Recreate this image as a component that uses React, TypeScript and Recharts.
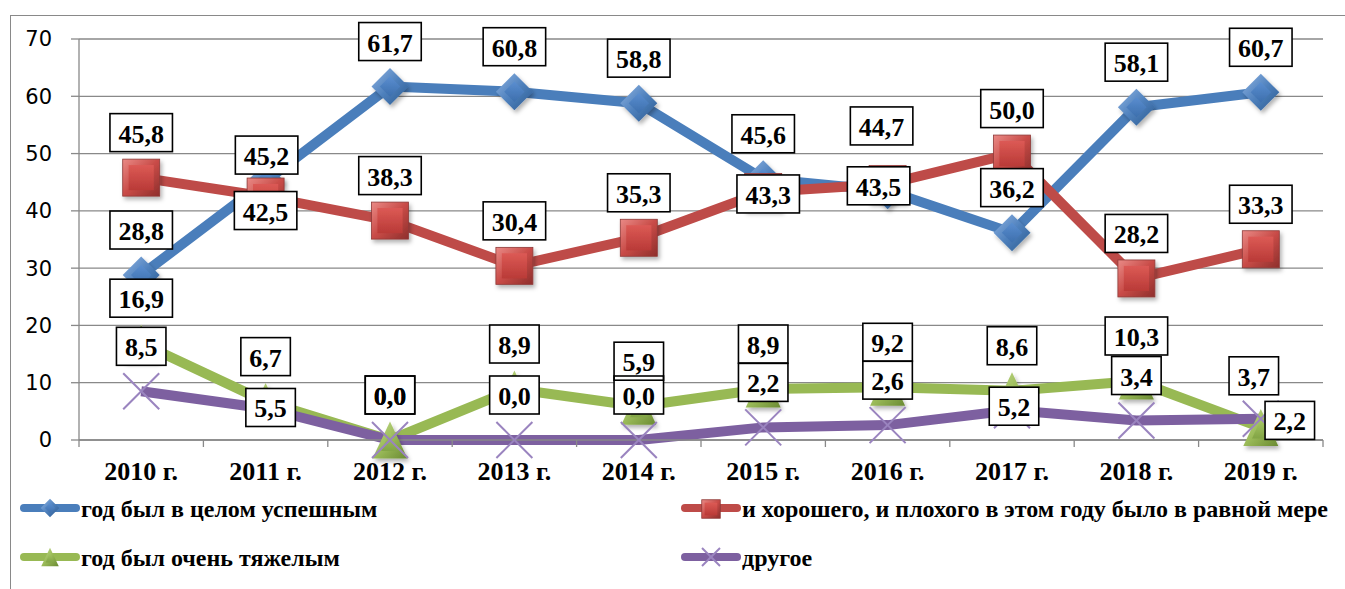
import React from "react";
import { LineChart, Line, XAxis, YAxis, CartesianGrid, Legend, LabelList } from "recharts";

const years = ["2010 г.", "2011 г.", "2012 г.", "2013 г.", "2014 г.", "2015 г.", "2016 г.", "2017 г.", "2018 г.", "2019 г."];
const success = [28.8, 45.2, 61.7, 60.8, 58.8, 45.6, 43.5, 36.2, 58.1, 60.7];
const mixed = [45.8, 42.5, 38.3, 30.4, 35.3, 43.3, 44.7, 50.0, 28.2, 33.3];
const hard = [16.9, 6.7, 0.0, 8.9, 5.9, 8.9, 9.2, 8.6, 10.3, 2.2];
const other = [8.5, 5.5, 0.0, 0.0, 0.0, 2.2, 2.6, 5.2, 3.4, 3.7];
const yTicks = [0, 10, 20, 30, 40, 50, 60, 70];

const nameSuccess = "год был в целом успешным";
const nameMixed = "и хорошего, и плохого в этом году было в равной мере";
const nameHard = "год был очень тяжелым";
const nameOther = "другое";

const data = years.map((year, i) => ({
  year,
  success: success[i],
  mixed: mixed[i],
  hard: hard[i],
  other: other[i],
}));

// layout
const W = 1345;
const H = 589;
const margin = { top: 39, right: 22, bottom: 99, left: 19 };
const Y_AXIS_W = 60;
const X_AXIS_H = 50;
const plotWidth = W - margin.left - Y_AXIS_W - margin.right;
const band = plotWidth / years.length;
const GRID = "#898989";
const SERIF = "'Liberation Serif', 'Times New Roman', serif";

type Kind = "diamond" | "square" | "triangle" | "cross";

const series: { key: string; name: string; color: string; kind: Kind }[] = [
  { key: "success", name: nameSuccess, color: "#4A7EBB", kind: "diamond" },
  { key: "mixed", name: nameMixed, color: "#BE4B48", kind: "square" },
  { key: "hard", name: nameHard, color: "#98B954", kind: "triangle" },
  { key: "other", name: nameOther, color: "#7D60A0", kind: "cross" },
];

// label placement tweaks (dx, dy from the point), default is straight above
const DEFAULT_DY = -45;
const labelShift: Record<string, Record<number, [number, number]>> = {
  success: { 1: [1, -26], 6: [-9, -5] },
  mixed: { 1: [0, 14], 5: [5, 2], 6: [-6, -58] },
  hard: { 9: [29, -7] },
  other: { 1: [5, -1], 7: [2, -4], 9: [-7, -43] },
};

const fmt = (v: number) => v.toFixed(1).replace(".", ",");

function Marker({ kind, cx, cy, s = 1, shadow = true }: { kind: Kind; cx: number; cy: number; s?: number; shadow?: boolean }) {
  const f = shadow ? "url(#mshadow)" : undefined;
  if (kind === "diamond") {
    const r = 18.5 * s;
    const q = r * 0.55;
    return (
      <g filter={f}>
        <polygon points={`${cx},${cy - r} ${cx + r},${cy} ${cx},${cy + r} ${cx - r},${cy}`} fill="url(#gBlue)" />
        <polygon points={`${cx},${cy - q} ${cx + q},${cy} ${cx},${cy + q} ${cx - q},${cy}`} fill="url(#gBlueIn)" />
      </g>
    );
  }
  if (kind === "square") {
    const r = 18.5 * s;
    const q = r * 0.68;
    return (
      <g filter={f}>
        <rect x={cx - r} y={cy - r} width={2 * r} height={2 * r} fill="url(#gRed)" stroke="#8E3A38" strokeWidth={0.8} />
        <rect x={cx - q} y={cy - q} width={2 * q} height={2 * q} fill="url(#gRedIn)" />
      </g>
    );
  }
  if (kind === "triangle") {
    const hw = 17.5 * s;
    const hh = 18.5 * s;
    return (
      <g filter={f}>
        <polygon points={`${cx},${cy - hh} ${cx + hw},${cy + hh} ${cx - hw},${cy + hh}`} fill="url(#gGreen)" />
        <polygon
          points={`${cx},${cy - hh * 0.45} ${cx + hw * 0.5},${cy + hh * 0.6} ${cx - hw * 0.5},${cy + hh * 0.6}`}
          fill="url(#gGreenIn)"
        />
      </g>
    );
  }
  const r = 18 * s;
  return (
    <g stroke="#9A84BF" strokeWidth={2}>
      <line x1={cx - r} y1={cy - r} x2={cx + r} y2={cy + r} />
      <line x1={cx - r} y1={cy + r} x2={cx + r} y2={cy - r} />
    </g>
  );
}

function labelContent(key: string, layer: "bg" | "fg") {
  return (props: any) => {
    const vb = props.viewBox || {};
    const px = props.x ?? vb.x;
    const py = props.y ?? vb.y;
    const index = props.index;
    if (px == null || py == null) return null;
    const [dx, dy] = labelShift[key][index] ?? [0, DEFAULT_DY];
    const text = fmt(Number(props.value));
    const tw = (text.length - 1) * 13 + 6.5;
    const bw = tw + 17;
    const bh = 38;
    const cx = px + dx;
    const cy = py + dy;
    if (layer === "bg") {
      return <rect x={cx - bw / 2} y={cy - bh / 2} width={bw} height={bh} fill="#fff" />;
    }
    return (
      <g>
        <rect x={cx - bw / 2} y={cy - bh / 2} width={bw} height={bh} fill="none" stroke="#000" strokeWidth={1.6} />
        <text x={cx} y={cy + 10} textAnchor="middle" fontFamily={SERIF} fontWeight="bold" fontSize={26} fill="#000">
          {text}
        </text>
      </g>
    );
  };
}

function XTick(props: any) {
  const { x, y, payload, index } = props;
  const axisY = y - 8;
  return (
    <g>
      <line x1={x - band / 2} y1={axisY} x2={x - band / 2} y2={axisY + 7} stroke={GRID} strokeWidth={1.3} />
      {index === years.length - 1 && (
        <line x1={x + band / 2} y1={axisY} x2={x + band / 2} y2={axisY + 7} stroke={GRID} strokeWidth={1.3} />
      )}
      <text x={x} y={axisY + 40} textAnchor="middle" fontFamily={SERIF} fontWeight="bold" fontSize={26} fill="#000">
        {payload.value}
      </text>
    </g>
  );
}

function LegendBox() {
  const pos: [number, number][] = [
    [20, 18],
    [681, 18],
    [20, 67],
    [681, 67],
  ];
  return (
    <svg width={W} height={99}>
      {series.map((s, i) => {
        const [x, y] = pos[i];
        return (
          <g key={s.key}>
            <line x1={x + 4} y1={y} x2={x + 56} y2={y} stroke={s.color} strokeWidth={8} strokeLinecap="round" />
            <Marker kind={s.kind} cx={x + 30} cy={y + (s.kind === "square" ? 1 : 0)} s={0.5} shadow={false} />
            <text x={x + 61} y={y + 9} fontFamily={SERIF} fontWeight="bold" fontSize={24} fill="#000">
              {s.name}
            </text>
          </g>
        );
      })}
    </svg>
  );
}

export default function App() {
  return (
    <div style={{ position: "fixed", left: 0, top: 0, width: W, height: H, background: "#fff", overflow: "hidden" }}>
      <div
        style={{
          position: "absolute",
          left: 10,
          top: 15,
          width: W,
          height: H,
          borderLeft: `1.5px solid ${GRID}`,
          borderTop: `1.5px solid ${GRID}`,
        }}
      />
      <div style={{ position: "absolute", left: 0, top: 0 }}>
        <LineChart width={W} height={H} data={data} margin={margin}>
          <defs>
            <filter id="mshadow" x="-50%" y="-50%" width="200%" height="200%">
              <feDropShadow dx="2" dy="3" stdDeviation="2" floodColor="#000" floodOpacity="0.3" />
            </filter>
            <linearGradient id="gBlue" x1="0" y1="0" x2="1" y2="1">
              <stop offset="0%" stopColor="#8FB4E3" />
              <stop offset="50%" stopColor="#4F81BD" />
              <stop offset="100%" stopColor="#2B5A90" />
            </linearGradient>
            <linearGradient id="gBlueIn" x1="0" y1="0" x2="0" y2="1">
              <stop offset="0%" stopColor="#5A8ED0" />
              <stop offset="100%" stopColor="#3D6FAD" />
            </linearGradient>
            <linearGradient id="gRed" x1="0" y1="0" x2="1" y2="1">
              <stop offset="0%" stopColor="#EA8A86" />
              <stop offset="50%" stopColor="#C84B47" />
              <stop offset="100%" stopColor="#8E2F2C" />
            </linearGradient>
            <linearGradient id="gRedIn" x1="0" y1="0" x2="0" y2="1">
              <stop offset="0%" stopColor="#DC5A55" />
              <stop offset="100%" stopColor="#B93A37" />
            </linearGradient>
            <linearGradient id="gGreen" x1="0" y1="0" x2="1" y2="1">
              <stop offset="0%" stopColor="#C4DC8C" />
              <stop offset="50%" stopColor="#9BBB59" />
              <stop offset="100%" stopColor="#6A8A32" />
            </linearGradient>
            <linearGradient id="gGreenIn" x1="0" y1="0" x2="0" y2="1">
              <stop offset="0%" stopColor="#A8C866" />
              <stop offset="100%" stopColor="#82A445" />
            </linearGradient>
          </defs>
          <CartesianGrid vertical={false} stroke={GRID} strokeWidth={1.3} />
          <XAxis
            dataKey="year"
            interval={0}
            height={X_AXIS_H}
            padding={{ left: band / 2, right: band / 2 }}
            tickLine={false}
            tickSize={8}
            tickMargin={0}
            axisLine={{ stroke: GRID, strokeWidth: 1.3 }}
            tick={<XTick />}
          />
          <YAxis
            domain={[0, 70]}
            ticks={yTicks}
            interval={0}
            width={Y_AXIS_W}
            tickSize={8}
            tickMargin={19}
            axisLine={{ stroke: GRID, strokeWidth: 1.3 }}
            tickLine={{ stroke: GRID, strokeWidth: 1.3 }}
            tick={{ fill: "#000", fontSize: 21, fontFamily: "'DejaVu Sans', Verdana, sans-serif" }}
          />
          <Legend
            layout="horizontal"
            verticalAlign="middle"
            align="center"
            wrapperStyle={{ left: 0, top: 490, width: W, height: 99 }}
            content={() => <LegendBox />}
          />
          {series.map((s) => (
            <Line
              key={`bg-${s.key}`}
              dataKey={s.key}
              stroke="none"
              dot={false}
              activeDot={false}
              legendType="none"
              isAnimationActive={false}
            >
              <LabelList dataKey={s.key} content={labelContent(s.key, "bg")} />
            </Line>
          ))}
          {series.map((s) => (
            <Line
              key={s.key}
              name={s.name}
              dataKey={s.key}
              type="linear"
              stroke={s.color}
              strokeWidth={10}
              strokeLinejoin="round"
              isAnimationActive={false}
              activeDot={false}
              dot={(p: any) => <Marker key={`${s.key}-${p.index}`} kind={s.kind} cx={p.cx} cy={p.cy} />}
            />
          ))}
          {series.map((s) => (
            <Line
              key={`fg-${s.key}`}
              dataKey={s.key}
              stroke="none"
              dot={false}
              activeDot={false}
              legendType="none"
              isAnimationActive={false}
            >
              <LabelList dataKey={s.key} content={labelContent(s.key, "fg")} />
            </Line>
          ))}
        </LineChart>
      </div>
    </div>
  );
}
